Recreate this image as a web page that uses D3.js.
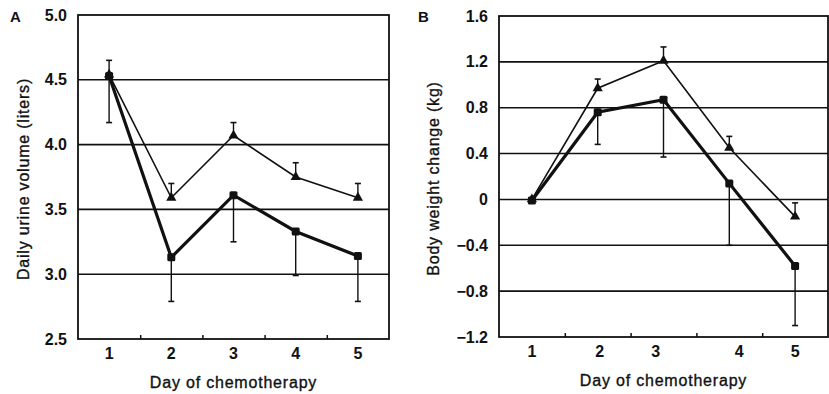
<!DOCTYPE html>
<html lang="en">
<head>
<meta charset="UTF-8">
<title>Urine volume and body weight</title>
<script src="https://d3js.org/d3.v7.min.js"></script>
<style>
  body { margin: 0; background: #fff; }
  svg { display: block; font-family: "Liberation Sans", Arial, sans-serif; }
  .tick-label { font-size: 16px; font-weight: bold; fill: #111; }
  .title { font-size: 16px; fill: #111; stroke: #111; stroke-width: 0.35px; letter-spacing: 0.8px; }
  .panel-letter { font-size: 15px; font-weight: bold; fill: #111; }
</style>
</head>
<body>
<div id="chart"></div>
<script>
// days on the x axis
const days = [1, 2, 3, 4, 5];
const dayLabels = ["1", "2", "3", "4", "5"];

// panel A: daily urine volume (liters)
const urineTicks = [2.5, 3.0, 3.5, 4.0, 4.5, 5.0];
const urineTriangle = [4.54, 3.59, 4.07, 3.75, 3.59];
const urineTriangleUpper = [4.65, 3.70, 4.17, 3.86, 3.70];
const urineSquare = [4.53, 3.13, 3.61, 3.33, 3.14];
const urineSquareLower = [4.17, 2.79, 3.25, 2.99, 2.79];
const urineLabelPos = [1, 2, 3, 4, 5];

// panel B: body weight change (kg)
const weightTicks = [-1.2, -0.8, -0.4, 0, 0.4, 0.8, 1.2, 1.6];
const weightTriangle = [0, 0.97, 1.21, 0.45, -0.15];
const weightTriangleUpper = [null, 1.05, 1.33, 0.55, -0.03];
const weightSquare = [-0.01, 0.76, 0.87, 0.14, -0.58];
const weightSquareLower = [null, 0.48, 0.37, -0.40, -1.10];
const weightLabelPos = [1, 2.03, 2.88, 4.15, 5];

const W = 829, H = 394;
const svg = d3.select("#chart").append("svg")
  .attr("width", W)
  .attr("height", H);

function drawPanel(p) {
  const x = d3.scaleLinear().domain([0.5, 5.5]).range([p.left, p.right]);
  const y = d3.scaleLinear().domain(p.yDomain).range([p.bottom, p.top]);
  const g = svg.append("g");

  // horizontal gridlines
  g.selectAll(".grid")
    .data(p.ticks.slice(1, -1))
    .enter().append("line")
    .attr("x1", p.left).attr("x2", p.right)
    .attr("y1", d => y(d)).attr("y2", d => y(d))
    .attr("stroke", "#111").attr("stroke-width", 1.6);

  // frame
  g.append("rect")
    .attr("x", p.left).attr("y", p.top)
    .attr("width", p.right - p.left).attr("height", p.bottom - p.top)
    .attr("fill", "none").attr("stroke", "#111").attr("stroke-width", 1.8);

  // y axis
  const yAxis = d3.axisLeft(y).tickValues(p.ticks).tickSize(0).tickPadding(11)
    .tickFormat(p.format);
  const ya = g.append("g").attr("transform", "translate(" + p.left + ",0)").call(yAxis);
  ya.select(".domain").remove();
  ya.selectAll("text").attr("class", "tick-label").attr("fill", null);

  // x axis: inward ticks between days
  const xAxis = d3.axisTop(x).tickValues([1.5, 2.5, 3.5, 4.5]).tickSize(4).tickFormat("");
  const xa = g.append("g").attr("transform", "translate(0," + p.bottom + ")").call(xAxis);
  xa.select(".domain").remove();
  xa.selectAll("line").attr("stroke", "#111").attr("stroke-width", 1.5);

  g.selectAll(".xlab")
    .data(dayLabels)
    .enter().append("text")
    .attr("class", "tick-label")
    .attr("text-anchor", "middle")
    .attr("x", (d, i) => x(p.labelPos[i]))
    .attr("y", p.bottom + 20)
    .text(d => d);

  // titles
  g.append("text").attr("class", "title")
    .attr("text-anchor", "middle")
    .attr("x", (p.left + p.right) / 2 + p.xTitleShift)
    .attr("y", p.bottom + 49)
    .text("Day of chemotherapy");
  g.append("text").attr("class", "title")
    .attr("text-anchor", "middle")
    .attr("transform", "translate(" + p.yTitleX + "," + ((p.top + p.bottom) / 2 + 2) + ") rotate(-90)")
    .text(p.yTitle);
  g.append("text").attr("class", "panel-letter")
    .attr("x", p.letterX).attr("y", 22)
    .text(p.letter);

  // error bars
  function errBars(vals, ends, sw) {
    const d = days.map((day, i) => ({ day: day, v: vals[i], e: ends[i] })).filter(o => o.e !== null);
    g.selectAll(null).data(d).enter().append("line")
      .attr("x1", o => x(o.day)).attr("x2", o => x(o.day))
      .attr("y1", o => y(o.v)).attr("y2", o => y(o.e))
      .attr("stroke", "#111").attr("stroke-width", sw);
    g.selectAll(null).data(d).enter().append("line")
      .attr("x1", o => x(o.day) - 3).attr("x2", o => x(o.day) + 3)
      .attr("y1", o => y(o.e)).attr("y2", o => y(o.e))
      .attr("stroke", "#111").attr("stroke-width", 1.6);
  }
  errBars(p.tri, p.triErr, 1.4);
  errBars(p.sq, p.sqErr, 1.4);

  const line = d3.line().x((d, i) => x(days[i])).y(d => y(d));

  g.append("path").datum(p.tri)
    .attr("d", line).attr("fill", "none")
    .attr("stroke", "#111").attr("stroke-width", 1.6);
  g.append("path").datum(p.sq)
    .attr("d", line).attr("fill", "none")
    .attr("stroke", "#111").attr("stroke-width", 3.2);

  const tri = d3.symbol().type(d3.symbolTriangle).size(45);
  g.selectAll(null).data(p.tri).enter().append("path")
    .attr("d", tri)
    .attr("transform", (d, i) => "translate(" + x(days[i]) + "," + y(d) + ")")
    .attr("fill", "#111");
  g.selectAll(null).data(p.sq).enter().append("rect")
    .attr("x", (d, i) => x(days[i]) - 4).attr("y", d => y(d) - 4)
    .attr("width", 8).attr("height", 8).attr("rx", 1.5)
    .attr("fill", "#111");
}

drawPanel({
  left: 78, right: 389, top: 15, bottom: 339,
  yDomain: [2.5, 5.0], ticks: urineTicks,
  format: d3.format(".1f"),
  tri: urineTriangle, triErr: urineTriangleUpper,
  sq: urineSquare, sqErr: urineSquareLower,
  labelPos: urineLabelPos,
  yTitle: "Daily urine volume (liters)", yTitleX: 29, xTitleShift: 0,
  letter: "A", letterX: 10
});

drawPanel({
  left: 499, right: 828, top: 16, bottom: 337,
  yDomain: [-1.2, 1.6], ticks: weightTicks,
  format: d => d === 0 ? "0" : d3.format(".1f")(d),
  tri: weightTriangle, triErr: weightTriangleUpper,
  sq: weightSquare, sqErr: weightSquareLower,
  labelPos: weightLabelPos,
  yTitle: "Body weight change (kg)", yTitleX: 439, xTitleShift: 0,
  letter: "B", letterX: 418
});
</script>
</body>
</html>
